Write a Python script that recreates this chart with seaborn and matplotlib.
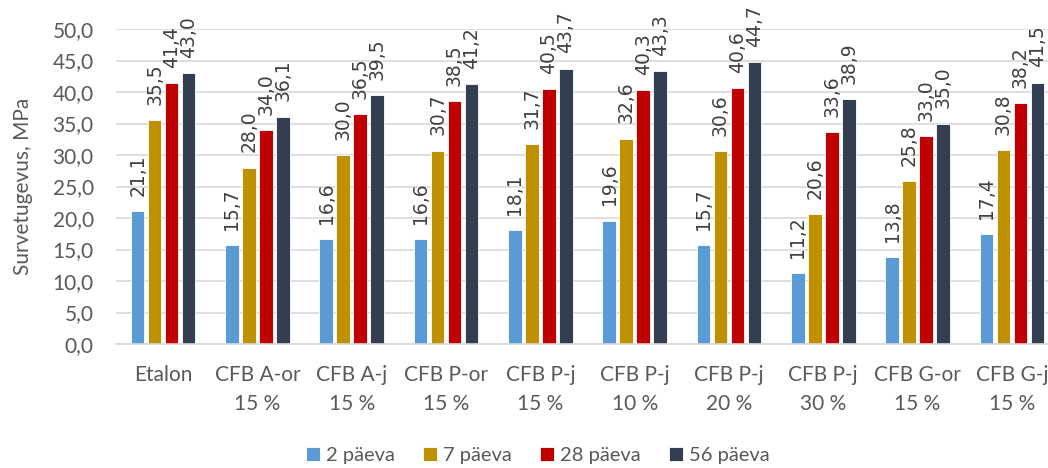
import matplotlib
matplotlib.use("Agg")
import matplotlib.pyplot as plt
import seaborn as sns
import pandas as pd

# Compressive strength by mix and curing age
categories = ["Etalon", "CFB A-or\n15 %", "CFB A-j\n15 %", "CFB P-or\n15 %", "CFB P-j\n15 %",
              "CFB P-j\n10 %", "CFB P-j\n20 %", "CFB P-j\n30 %", "CFB G-or\n15 %", "CFB G-j\n15 %"]
series = ["2 päeva", "7 päeva", "28 päeva", "56 päeva"]
day2 = [21.1, 15.7, 16.6, 16.6, 18.1, 19.6, 15.7, 11.2, 13.8, 17.4]
day7 = [35.5, 28.0, 30.0, 30.7, 31.7, 32.6, 30.6, 20.6, 25.8, 30.8]
day28 = [41.4, 34.0, 36.5, 38.5, 40.5, 40.3, 40.6, 33.6, 33.0, 38.2]
day56 = [43.0, 36.1, 39.5, 41.2, 43.7, 43.3, 44.7, 38.9, 35.0, 41.5]
yticks = [0, 5, 10, 15, 20, 25, 30, 35, 40, 45, 50]

colors = ["#5B9BD5", "#BF9000", "#C00000", "#333F50"]
text_gray = "#595959"
grid_gray = "#D9D9D9"

values = [day2, day7, day28, day56]
df = pd.DataFrame({
    "category": [c for _ in series for c in categories],
    "series": [s for s in series for _ in categories],
    "value": [v for vals in values for v in vals],
})

sns.set_theme(style="white")
plt.rcParams["font.family"] = ["Lato", "DejaVu Sans"]

fig = plt.figure(figsize=(10.48, 4.68), dpi=100)
ax = fig.add_axes([116 / 1048, 1 - 344 / 468, 943 / 1048, 315 / 468])

sns.barplot(data=df, x="category", y="value", hue="series", order=categories,
            hue_order=series, palette=colors, width=0.72, gap=0.2,
            saturation=1, edgecolor="white", linewidth=0.6, ax=ax, legend=True)

for cont, vals in zip(ax.containers, values):
    ax.bar_label(cont, labels=[f"{v:.1f}".replace(".", ",") for v in vals],
                 rotation=90, padding=11, fontsize=13.5, color="#404040",
                 family="DejaVu Sans")

ax.set_ylim(0, 50)
ax.set_yticks(yticks)
ax.set_yticklabels([f"{t:.1f}".replace(".", ",") for t in yticks])
ax.yaxis.grid(True, color=grid_gray, linewidth=1.2)
ax.set_axisbelow(True)
for side in ["left", "right", "top"]:
    ax.spines[side].set_visible(False)
ax.spines["bottom"].set_color(grid_gray)
ax.spines["bottom"].set_linewidth(1.2)
ax.tick_params(axis="both", length=0, labelsize=15, colors=text_gray)
ax.tick_params(axis="x", pad=15)
ax.tick_params(axis="y", pad=16)
for lbl in ax.get_xticklabels():
    lbl.set_linespacing(1.6)
ax.set_xlabel("")
ax.set_ylabel("Survetugevus, MPa", fontsize=15, color=text_gray, labelpad=14)

handles, labels = ax.get_legend_handles_labels()
ax.get_legend().remove()
fig.legend(handles, labels, loc="lower center", bbox_to_anchor=(0.513, -0.03), ncol=4,
           frameon=False, fontsize=14.5, labelcolor=text_gray, handlelength=0.7,
           handleheight=0.7, handletextpad=0.3, columnspacing=1.4)

fig.savefig("out.png", dpi=100)
